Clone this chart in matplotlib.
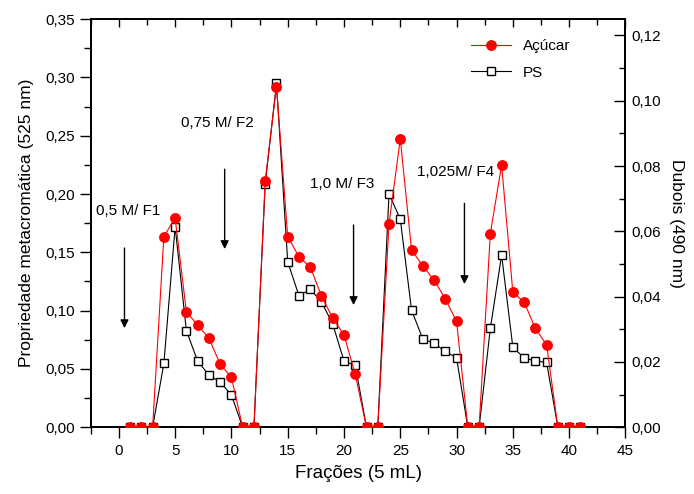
import matplotlib
matplotlib.use("Agg")
import matplotlib.pyplot as plt
from matplotlib.ticker import MultipleLocator, FuncFormatter

plt.rcParams['font.family'] = ['Liberation Sans', 'DejaVu Sans']

fracoes = list(range(1, 42))

# PS: metachromatic property (525 nm), left axis
ps = [0, 0, 0, 0.0548, 0.1719, 0.0828, 0.0568, 0.0448, 0.0388, 0.0277,
      0, 0, 0.2083, 0.2948, 0.1419, 0.1128, 0.1183, 0.1076, 0.0885, 0.0568,
      0.0531, 0, 0, 0.2000, 0.1785, 0.1005, 0.0757, 0.0720, 0.0651, 0.0596,
      0, 0, 0.0848, 0.1477, 0.0686, 0.0596, 0.0568, 0.0557, 0, 0, 0]

# Açúcar: Dubois (490 nm), right axis
acucar = [0, 0, 0, 0.0584, 0.0641, 0.0353, 0.0313, 0.0273, 0.0193, 0.0153,
          0, 0, 0.0754, 0.1043, 0.0584, 0.0522, 0.0491, 0.0402, 0.0334, 0.0283,
          0.0162, 0, 0, 0.0622, 0.0883, 0.0543, 0.0494, 0.0451, 0.0393, 0.0324,
          0, 0, 0.0593, 0.0803, 0.0413, 0.0383, 0.0303, 0.0252, 0, 0, 0]

rotulos = ["0,5 M/ F1", "0,75 M/ F2", "1,0 M/ F3", "1,025M/ F4"]
rotulo_x = [-2.0, 5.55, 17.0, 26.5]
rotulo_y = [0.1854, 0.2606, 0.2085, 0.219]
seta_x = [0.5, 9.4, 20.85, 30.7]
seta_y0 = [0.1537, 0.2213, 0.1734, 0.192]
seta_y1 = [0.085, 0.1528, 0.1048, 0.1228]

fig = plt.figure(figsize=(6.94, 4.94), dpi=100)
ax = fig.add_axes([0.1307, 0.135, 0.9012 - 0.1307, 0.9615 - 0.135])
ax3 = ax.twiny()
ax2 = ax.twinx()

comma = FuncFormatter(lambda v, p: f"{v:.2f}".replace('.', ','))

l1, = ax.plot(fracoes, ps, color='black', lw=0.8, marker='s', ms=5.2,
              mfc='white', mec='black', mew=1.0, label='PS', zorder=2)
l2, = ax2.plot(fracoes, acucar, color='red', lw=0.8, marker='o', ms=6.8,
               mfc='red', mec='red', label='Açúcar', zorder=3)

ax.set_xlim(-2.5, 45)
ax3.set_xlim(-2.5, 45)
ax.set_ylim(0, 0.35)
ax2.set_ylim(0, 0.125)

ax.xaxis.set_major_locator(MultipleLocator(5))
ax.xaxis.set_minor_locator(MultipleLocator(2.5))
ax3.xaxis.set_major_locator(MultipleLocator(5))
ax3.xaxis.set_minor_locator(MultipleLocator(2.5))
ax.yaxis.set_major_locator(MultipleLocator(0.05))
ax.yaxis.set_minor_locator(MultipleLocator(0.025))
ax2.yaxis.set_major_locator(MultipleLocator(0.02))
ax2.yaxis.set_minor_locator(MultipleLocator(0.01))
ax.yaxis.set_major_formatter(comma)
ax2.yaxis.set_major_formatter(comma)

ax.tick_params(axis='both', which='major', direction='out', length=8, width=1, labelsize=11)
ax.tick_params(axis='both', which='minor', direction='out', length=5, width=1)
ax.tick_params(axis='x', pad=4)
ax2.tick_params(axis='y', which='major', direction='in', length=8, width=1, labelsize=11, pad=4)
ax2.tick_params(axis='y', which='minor', direction='in', length=4, width=1)
ax3.tick_params(axis='x', which='both', direction='in', length=6, width=1, labeltop=False)
ax3.tick_params(axis='x', which='minor', length=4)

for a in (ax, ax2, ax3):
    for s in a.spines.values():
        s.set_linewidth(1.2)

for t, x, y in zip(rotulos, rotulo_x, rotulo_y):
    ax.text(x, y, t, fontsize=11, ha='left', va='center')
for x, y0, y1 in zip(seta_x, seta_y0, seta_y1):
    ax.annotate('', xy=(x, y1), xytext=(x, y0),
                arrowprops=dict(arrowstyle='-|>', color='black', lw=1.0,
                                mutation_scale=12, shrinkA=0, shrinkB=0))

ax.set_xlabel('Frações (5 mL)', fontsize=13.5, labelpad=5)
ax.set_ylabel('Propriedade metacromática (525 nm)', fontsize=12.5, labelpad=8)
ax2.set_ylabel('Dubois (490 nm)', fontsize=12.5, rotation=270, labelpad=17)

leg = ax2.legend([l2, l1], ['Açúcar', 'PS'], loc='upper left',
                 bbox_to_anchor=(0.70, 0.965), frameon=False, fontsize=11,
                 handlelength=2.6, labelspacing=0.8, borderaxespad=0)

fig.savefig('out.png', dpi=100)
